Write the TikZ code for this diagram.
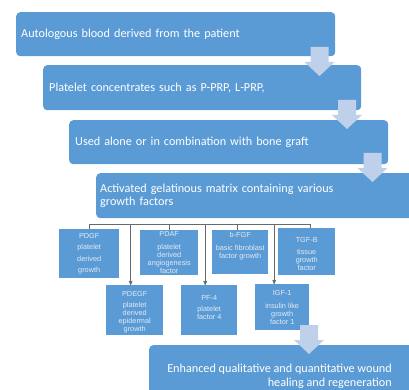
\documentclass[tikz,border=0pt]{standalone}
\usepackage{fontspec}
\usepackage{tikz}
\usetikzlibrary{arrows}
\newfontfamily\calfont{Carlito}
\newfontfamily\arfont{Liberation Sans}
\definecolor{boxblue}{RGB}{91,155,213}
\definecolor{chevblue}{RGB}{191,209,234}
\definecolor{gftext}{RGB}{226,234,245}
\definecolor{linkgray}{RGB}{105,105,105}
\tikzset{
  stage/.style = {rectangle, rounded corners=4pt, fill=boxblue, text=white,
    anchor=north west, align=left, inner xsep=5pt, inner ysep=0pt,
    font=\calfont\fontsize{12.2}{13}\selectfont},% big step box
  gf/.style = {rectangle, fill=boxblue, text=gftext, anchor=north west,
    align=center, inner sep=0pt, font=\arfont\fontsize{7.3}{8}\selectfont},% growth factor box
  link/.style = {draw=linkgray, line width=0.6pt},
  chev/.pic = {\fill[chevblue] (-9,0) -- (-9,15) -- (9,15) -- (9,0) -- (15,0)
    -- (0,-14) -- (-15,0) -- cycle;}% fat down arrow
}
\begin{document}
\begin{tikzpicture}[x=1pt,y=1pt,->,>=stealth']
\useasboundingbox (0,0) rectangle (409,-390);
\clip (0,0) rectangle (409,-390);
% steps
\node[stage, text width=309pt, minimum height=44pt] (blood) at (16,-12) {Autologous blood derived from the patient};
\node[stage, text width=306pt, inner xsep=6pt, minimum height=45pt] (prp) at (43,-65) {Platelet concentrates such as P-PRP, L-PRP,};
\node[stage, text width=307pt, inner xsep=6pt, minimum height=44pt] (graft) at (69,-120) {Used alone or in combination with bone graft};
\node[stage, text width=320pt, inner xsep=4pt, minimum height=45pt] (matrix) at (96,-173) {Activated gelatinous matrix containing various\\growth factors};
% growth factors
\node[gf, minimum width=60pt, minimum height=49pt] (pdgf) at (59,-229) {PDGF\\[3.5pt]platelet\\[3.5pt]derived\\[3.5pt]growth};
\node[gf, minimum width=58pt, minimum height=45pt] (pdaf) at (140,-230) {PDAF\\[5pt]platelet\\derived\\angiogenesis\\factor};
\node[gf, minimum width=56pt, minimum height=44pt] (bfgf) at (212,-230) {b-FGF\\[5pt]basic fibroblast\\factor growth\\[5pt]\mbox{}};
\node[gf, minimum width=57pt, minimum height=47pt] (tgfb) at (278,-228) {\mbox{}\\[2pt]TGF-B\\[4pt]tissue\\growth\\factor};
\node[gf, minimum width=57pt, minimum height=50pt] (pdegf) at (106,-285) {\mbox{}\\[1pt]PDEGF\\[3pt]platelet\\derived\\epidermal\\growth};
\node[gf, minimum width=56pt, minimum height=50pt] (pf4) at (181,-285) {PF-4\\[3pt]platelet\\factor 4\\[-2pt]\mbox{}};
\node[gf, minimum width=54pt, minimum height=46pt] (igf) at (255,-284) {IGF-1\\[5pt]insulin like\\growth\\factor 1};
% outcome
\node[stage, minimum width=280pt, minimum height=60pt] (heal) at (149,-345) {};
\node[anchor=north east, align=right, text=white, inner sep=0pt,
  font=\calfont\fontsize{12.2}{14}\selectfont] (healtxt) at (392,-364) {Enhanced qualitative and quantitative wound\\healing and regeneration};
% bus
\coordinate (bus) at (0,-224);
\draw[link,-] (pdgf.north) -- (pdgf.north |- bus) -- ([xshift=4pt]tgfb.north |- bus) -- ([xshift=4pt]tgfb.north);
\draw[link,-] (pdaf.north) -- (pdaf.north |- bus);
\draw[link,-] ([xshift=-3pt]bfgf.north) -- ([xshift=-3pt]bfgf.north |- bus);
\draw[link] ([xshift=-4pt]pdegf.north |- bus) -- ([xshift=-4pt]pdegf.north);
\draw[link] ([xshift=-4pt]pf4.north |- bus) -- ([xshift=-4pt]pf4.north);
\draw[link] ([xshift=-8pt]igf.north |- bus) -- ([xshift=-8pt]igf.north);
% fat arrows
\pic at (319.5,-62) {chev};
\pic at (347,-115) {chev};
\pic at (372.5,-168) {chev};
\pic at (309,-340) {chev};
\end{tikzpicture}
\end{document}
